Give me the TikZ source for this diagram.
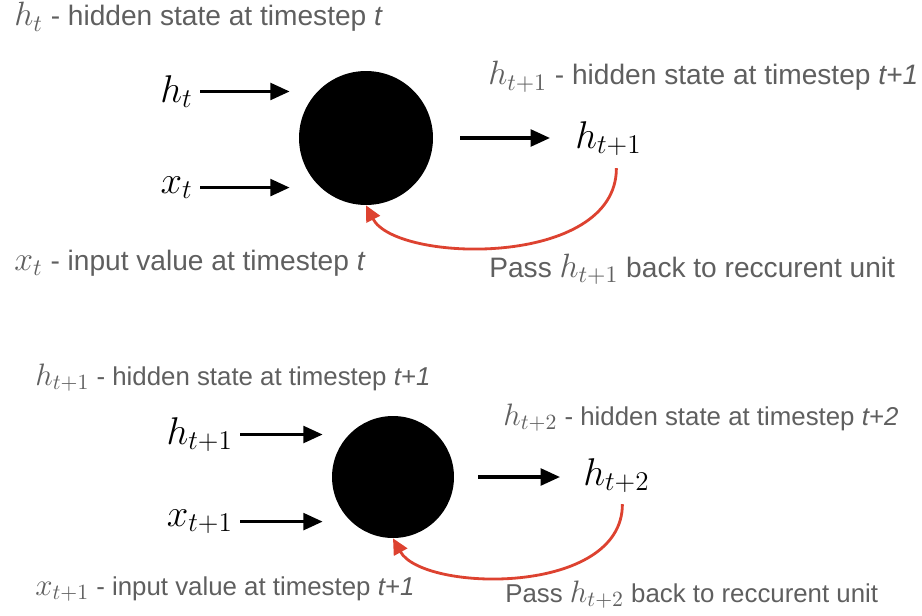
\RequirePackage{fix-cm}
\documentclass[tikz,border=0pt]{standalone}
\usepackage{fontspec}
\setmainfont{Liberation Sans}
\usetikzlibrary{positioning, arrows.meta}
\definecolor{NoteGray}{RGB}{95,95,95}
\definecolor{LoopRed}{RGB}{221,66,48}
\newcommand{\notevar}[1]{\scalebox{1.2}{$#1$}}

\begin{document}
\begin{tikzpicture}[x=0.02cm, y=-0.02cm,
    cell/.style={circle, fill=black, inner sep=0pt},
    sym/.style={inner sep=0pt, font=\fontsize{22}{26}\selectfont},
    note/.style={inner sep=0pt, text=NoteGray, font=\fontsize{16}{19}\selectfont},
    lownote/.style={note, font=\fontsize{14.7}{17}\selectfont},
    flow/.style={-{Triangle[length=11pt,width=9.5pt]}, line width=1.9pt},
    feed/.style={flow, shorten <=0.14cm, shorten >=0.18cm},
    back/.style={-{Triangle[length=9pt,width=8.5pt]}, line width=1.6pt, LoopRed}]
    \useasboundingbox (0,0) rectangle (922,615);

    % First step
    \node[cell, minimum size=2.68cm] (cell1) at (366,138) {};
    \node[sym, anchor=base east] (hin1) at (193,102) {$h_t$};
    \node[sym, anchor=base east] (xin1) at (193,193) {$x_t$};
    \node[sym, anchor=base west] (hout1) at (575,148) {$h_{t+1}$};

    \draw[feed] (hin1.east) -- (hin1.east -| cell1.west);
    \draw[feed] (xin1.east) -- (xin1.east -| cell1.west);
    \draw[flow, shorten <=0.54cm, shorten >=0.5cm] (cell1.east) -- (cell1.east -| hout1.west);

    % Feedback loop
    \draw[back] ([shift={(8,12)}]hout1.south) .. controls +(0,100) and +(30,58) .. (cell1.south);

    % Notes
    \node[note, anchor=base west] (hnote1) at (14,26) {\notevar{h_t} - hidden state at timestep \textit{t}};
    \node[note, anchor=base west] (xnote1) at (14,270) {\notevar{x_t} - input value at timestep \textit{t}};
    \node[note, anchor=base west] (onote1) at (488,85) {\notevar{h_{t+1}} - hidden state at timestep \textit{t+1}};
    \node[note, anchor=base west] (pnote1) at (489,277) {Pass \notevar{h_{t+1}} back to reccurent unit};

    % Second step
    \node[cell, minimum size=2.44cm] (cell2) at (393,477) {};
    \node[sym, anchor=base east] (hin2) at (233,444) {$h_{t+1}$};
    \node[sym, anchor=base east] (xin2) at (233,526) {$x_{t+1}$};
    \node[sym, anchor=base west] (hout2) at (583,485) {$h_{t+2}$};

    \draw[feed] (hin2.east) -- (hin2.east -| cell2.west);
    \draw[feed] (xin2.east) -- (xin2.east -| cell2.west);
    \draw[flow, shorten <=0.48cm, shorten >=0.46cm] (cell2.east) -- (cell2.east -| hout2.west);

    % Feedback loop
    \draw[back] ([shift={(6,11)}]hout2.south) .. controls +(0,92) and +(30,54) .. (cell2.south);

    % Notes
    \node[lownote, anchor=base west] (hnote2) at (35,385) {\notevar{h_{t+1}} - hidden state at timestep \textit{t+1}};
    \node[lownote, anchor=base west] (xnote2) at (35,595) {\notevar{x_{t+1}} - input value at timestep \textit{t+1}};
    \node[lownote, anchor=base west] (onote2) at (503,425) {\notevar{h_{t+2}} - hidden state at timestep \textit{t+2}};
    \node[lownote, anchor=base west] (pnote2) at (505,602) {Pass \notevar{h_{t+2}} back to reccurent unit};
\end{tikzpicture}
\end{document}
